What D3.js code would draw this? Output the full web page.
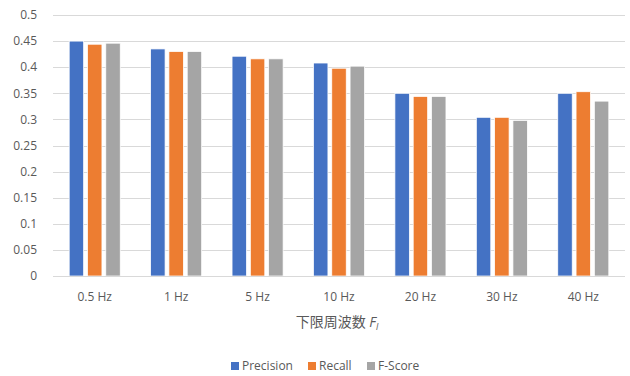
<!DOCTYPE html>
<html>
<head>
<meta charset="utf-8">
<script src="https://cdn.jsdelivr.net/npm/d3@7"></script>
<style>
  body { margin: 0; background: white; }
  text { font-family: "Open Sans", "Noto Sans CJK JP", sans-serif; fill: #595959; }
</style>
</head>
<body>
<div class="canvas"></div>
<script>
var width = 630;
var height = 376;

// data
var categories = ["0.5 Hz", "1 Hz", "5 Hz", "10 Hz", "20 Hz", "30 Hz", "40 Hz"];
var seriesNames = ["Precision", "Recall", "F-Score"];
var precision = [0.450, 0.435, 0.421, 0.408, 0.350, 0.304, 0.350];
var recall = [0.444, 0.430, 0.416, 0.398, 0.344, 0.304, 0.353];
var fscore = [0.446, 0.430, 0.416, 0.402, 0.344, 0.298, 0.335];
var yTicks = [0, 0.05, 0.1, 0.15, 0.2, 0.25, 0.3, 0.35, 0.4, 0.45, 0.5];
var colors = ["#4472C4", "#ED7D31", "#A5A5A5"];

var series = [precision, recall, fscore];

var m = { left: 54, right: 6, top: 15, bottom: 100 };

var svg = d3.select(".canvas").append("svg")
    .attr("width", width)
    .attr("height", height)
    .style("background", "white");

var x = d3.scaleBand().domain(categories).range([m.left, width - m.right]).paddingInner(0).paddingOuter(0);
var xIn = d3.scaleBand().domain(seriesNames).range([0, x.bandwidth()]).paddingInner(0.21).paddingOuter(0.83);
var y = d3.scaleLinear().domain([0, 0.5]).range([height - m.bottom, m.top]);

// gridlines
svg.append("g").selectAll("line")
    .data(yTicks)
    .enter().append("line")
    .attr("x1", 53).attr("x2", 625)
    .attr("y1", d => Math.round(y(d)) + 0.5).attr("y2", d => Math.round(y(d)) + 0.5)
    .attr("stroke", "#D9D9D9")
    .attr("stroke-width", 1);

// y labels
svg.append("g").selectAll("text")
    .data(yTicks)
    .enter().append("text")
    .attr("x", 37)
    .attr("y", d => y(d))
    .attr("dy", "0.35em")
    .attr("text-anchor", "end")
    .style("font-size", "12px")
    .text(d => d3.format("")(d));

// bars
var groups = svg.append("g").selectAll("g")
    .data(categories)
    .enter().append("g")
    .attr("transform", d => "translate(" + x(d) + ",0)");

groups.selectAll("rect")
    .data((d, i) => seriesNames.map((s, j) => ({ s: s, v: series[j][i], c: colors[j] })))
    .enter().append("rect")
    .attr("x", d => xIn(d.s))
    .attr("width", xIn.bandwidth())
    .attr("y", d => y(d.v))
    .attr("height", d => y(0) - y(d.v))
    .attr("fill", d => d.c)
    .attr("stroke", "white")
    .attr("stroke-width", 0.75);

// baseline
svg.append("line")
    .attr("x1", 53).attr("x2", 625)
    .attr("y1", Math.round(y(0)) + 0.5).attr("y2", Math.round(y(0)) + 0.5)
    .attr("stroke", "#D9D9D9");

// x labels
svg.append("g").selectAll("text")
    .data(categories)
    .enter().append("text")
    .attr("x", d => x(d) + x.bandwidth() / 2)
    .attr("y", 301)
    .attr("text-anchor", "middle")
    .style("font-size", "12px")
    .text(d => d);

// axis title
var title = svg.append("text")
    .attr("x", x(categories[3]) + x.bandwidth() / 2 - 2)
    .attr("y", 327)
    .attr("text-anchor", "middle")
    .style("font-size", "14px");
title.append("tspan").text("下限周波数 ");
title.append("tspan").style("font-style", "italic").text("F");
title.append("tspan").style("font-style", "italic").style("font-size", "9px").attr("dy", 3).text("l");

// legend
var legendX = [231, 308, 367];
var legend = svg.append("g").selectAll("g")
    .data(seriesNames)
    .enter().append("g")
    .attr("transform", (d, i) => "translate(" + legendX[i] + ",366)");
legend.append("rect")
    .attr("x", 0).attr("y", -4)
    .attr("width", 8).attr("height", 8)
    .attr("fill", (d, i) => colors[i]);
legend.append("text")
    .attr("x", 11)
    .attr("dy", "0.35em")
    .style("font-size", "12px")
    .text(d => d);
</script>
</body>
</html>
